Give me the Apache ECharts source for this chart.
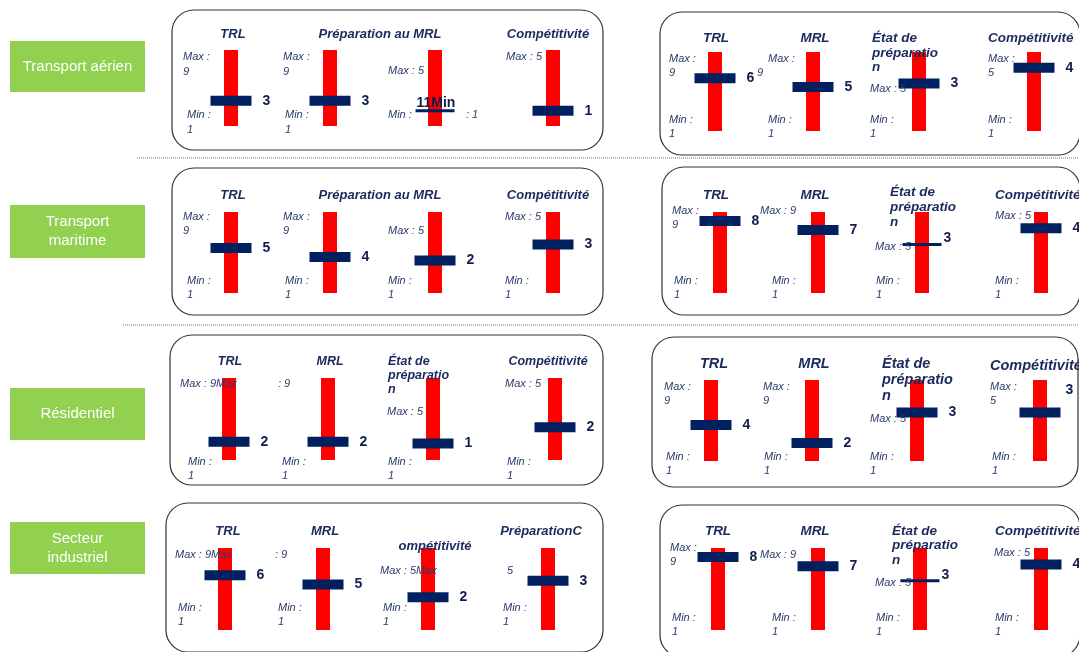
<!DOCTYPE html>
<html><head><meta charset="utf-8">
<script src="https://cdn.jsdelivr.net/npm/echarts@6/dist/echarts.min.js"></script>
<style>html,body{margin:0;padding:0;background:#fff}#c{width:1079px;height:652px}</style>
</head><body><div id="c"></div>
<script>
// ---------- DATA ----------
const sectors = ['Transport aérien', 'Transport\nmaritime', 'Résidentiel', 'Secteur\nindustriel'];
const criteria = ['TRL', 'MRL', 'État de préparation', 'Compétitivité'];
const maxVals = [9, 9, 5, 5];
const minVals = [1, 1, 1, 1];
const aerienLeft = [3, 3, 1, 1];
const aerienRight = [6, 5, 3, 4];
const maritimeLeft = [5, 4, 2, 3];
const maritimeRight = [8, 7, 3, 4];
const residentielLeft = [2, 2, 1, 2];
const residentielRight = [4, 2, 3, 3];
const industrielLeft = [6, 5, 2, 3];
const industrielRight = [8, 7, 3, 4];

// ---------- LAYOUT / STYLE ----------
const FONT = '"Liberation Sans", Arial, sans-serif';
const NAVY = '#002060';
const TXT = '#1B2A5E';
const LAB = '#2B3B6B';
const T = 'title', L = 'lab';
const mx = i => 'Max : ' + maxVals[i];

const panels = [
  { vals: aerienLeft, box: [172, 10, 431, 140], top: 50, bottom: 126, cx: [231, 330, 435, 553], ts: 13,
    thin: { 2: { label: { position: [1, -13], formatter: p => minVals[2] + '' + p.value + 'Min' } } },
    texts: [['TRL',233,34,T,'center'],['Préparation au MRL',380,34,T,'center'],['Compétitivité',548,34,T,'center'],
      ['Max :',183,57,L],[String(maxVals[0]),183,72,L],['Max :',283,57,L],[String(maxVals[1]),283,72,L],[mx(2),388,71,L],[mx(3),506,57,L],
      ['Min :',187,115,L],[String(minVals[0]),187,130,L],['Min :',285,115,L],[String(minVals[1]),285,130,L],['Min :',388,115,L],[': ' + minVals[3],466,115,L]] },
  { vals: aerienRight, box: [660, 12, 420, 143], top: 52, bottom: 131, cx: [715, 813, 919, 1034], ts: 13.5, thin: {},
    texts: [['TRL',716,38,T,'center'],['MRL',815,38,T,'center'],['État de',872,38,T],['préparatio',872,53,T],['n',872,67,T],['Compétitivité',988,38,T],
      ['Max :',669,59,L],[String(maxVals[0]),669,73,L],['Max :',768,59,L],[String(maxVals[1]),757,73,L],[mx(2),870,89,L],['Max :',988,59,L],[String(maxVals[3]),988,73,L],
      ['Min :',669,120,L],[String(minVals[0]),669,134,L],['Min :',768,120,L],[String(minVals[1]),768,134,L],['Min :',870,120,L],[String(minVals[2]),870,134,L],['Min :',988,120,L],[String(minVals[3]),988,134,L]] },
  { vals: maritimeLeft, box: [172, 168, 431, 147], top: 212, bottom: 293, cx: [231, 330, 435, 553], ts: 13, thin: null,
    texts: [['TRL',233,195,T,'center'],['Préparation au MRL',380,195,T,'center'],['Compétitivité',548,195,T,'center'],
      ['Max :',183,217,L],[String(maxVals[0]),183,231,L],['Max :',283,217,L],[String(maxVals[1]),283,231,L],[mx(2),388,231,L],[mx(3),505,217,L],
      ['Min :',187,281,L],[String(minVals[0]),187,295,L],['Min :',285,281,L],[String(minVals[1]),285,295,L],['Min :',388,281,L],[String(minVals[2]),388,295,L],['Min :',505,281,L],[String(minVals[3]),505,295,L]] },
  { vals: maritimeRight, box: [662, 167, 418, 148], top: 212, bottom: 293, cx: [720, 818, 922, 1041], ts: 13.5,
    thin: { 2: { label: { position: 'right', distance: 2, offset: [0, -6] } } },
    texts: [['TRL',716,195,T,'center'],['MRL',815,195,T,'center'],['État de',890,192,T],['préparatio',890,207,T],['n',890,222,T],['Compétitivité',995,195,T],
      ['Max :',672,211,L],[String(maxVals[0]),672,225,L],[mx(1),760,211,L],[mx(2),875,247,L],[mx(3),995,216,L],
      ['Min :',674,281,L],[String(minVals[0]),674,295,L],['Min :',772,281,L],[String(minVals[1]),772,295,L],['Min :',876,281,L],[String(minVals[2]),876,295,L],['Min :',995,281,L],[String(minVals[3]),995,295,L]] },
  { vals: residentielLeft, box: [170, 335, 433, 150], top: 378, bottom: 460, cx: [229, 328, 433, 555], ts: 12.5, thin: null,
    texts: [['TRL',230,362,T,'center'],['MRL',330,362,T,'center'],['État de',388,362,T],['préparatio',388,376,T],['n',388,390,T],['Compétitivité',548,362,T,'center'],
      [mx(0) + 'Max',180,384,L],[': ' + maxVals[1],278,384,L],[mx(2),387,412,L],[mx(3),505,384,L],
      ['Min :',188,462,L],[String(minVals[0]),188,476,L],['Min :',282,462,L],[String(minVals[1]),282,476,L],['Min :',388,462,L],[String(minVals[2]),388,476,L],['Min :',507,462,L],[String(minVals[3]),507,476,L]] },
  { vals: residentielRight, box: [652, 337, 426, 150], top: 380, bottom: 461, cx: [711, 812, 917, 1040], ts: 14.5,
    thin: null, lab: { 3: { offset: [-6, -22] } },
    texts: [['TRL',714,364,T,'center'],['MRL',814,364,T,'center'],['État de',882,364,T],['préparatio',882,380,T],['n',882,396,T],['Compétitivité',990,366,T],
      ['Max :',664,387,L],[String(maxVals[0]),664,401,L],['Max :',763,387,L],[String(maxVals[1]),763,401,L],[mx(2),870,419,L],['Max :',990,387,L],[String(maxVals[3]),990,401,L],
      ['Min :',666,457,L],[String(minVals[0]),666,471,L],['Min :',764,457,L],[String(minVals[1]),764,471,L],['Min :',870,457,L],[String(minVals[2]),870,471,L],['Min :',992,457,L],[String(minVals[3]),992,471,L]] },
  { vals: industrielLeft, box: [166, 503, 437, 149], top: 548, bottom: 630, cx: [225, 323, 428, 548], ts: 13, thin: null,
    texts: [['TRL',228,531,T,'center'],['MRL',325,531,T,'center'],['ompétitivité',435,546,T,'center'],['PréparationC',541,531,T,'center'],
      [mx(0) + 'Max',175,555,L],[': ' + maxVals[1],275,555,L],[mx(2) + 'Max',380,571,L],[String(maxVals[3]),507,571,L],
      ['Min :',178,608,L],[String(minVals[0]),178,622,L],['Min :',278,608,L],[String(minVals[1]),278,622,L],['Min :',383,608,L],[String(minVals[2]),383,622,L],['Min :',503,608,L],[String(minVals[3]),503,622,L]] },
  { vals: industrielRight, box: [660, 505, 420, 152], top: 548, bottom: 630, cx: [718, 818, 920, 1041], ts: 13.5,
    thin: { 2: { label: { position: 'right', distance: 2, offset: [0, -6] } } },
    texts: [['TRL',718,531,T,'center'],['MRL',815,531,T,'center'],['État de',892,531,T],['préparatio',892,545,T],['n',892,560,T],['Compétitivité',995,531,T],
      ['Max :',670,548,L],[String(maxVals[0]),670,562,L],[mx(1),760,555,L],[mx(2),875,583,L],[mx(3),994,553,L],
      ['Min :',672,618,L],[String(minVals[0]),672,632,L],['Min :',772,618,L],[String(minVals[1]),772,632,L],['Min :',876,618,L],[String(minVals[2]),876,632,L],['Min :',995,618,L],[String(minVals[3]),995,632,L]] }
];

const greenBoxes = [[10, 41, 135, 51], [10, 205, 135, 53], [10, 388, 135, 52], [10, 522, 135, 52]];
const separators = [[137, 158, 1079, 158], [123, 325, 1079, 325]];

// ---------- BUILD ----------
const grid = [], xAxis = [], yAxis = [], series = [], graphic = [];

panels.forEach(p => {
  graphic.push({ type: 'rect', z: 1, shape: { x: p.box[0], y: p.box[1], width: p.box[2], height: p.box[3], r: 22 },
    style: { fill: 'none', stroke: '#333', lineWidth: 1.2 } });
  p.cx.forEach((cx, gi) => {
    const idx = grid.length;
    grid.push({ left: cx - 21, top: p.top, width: 42, height: p.bottom - p.top, containLabel: false });
    xAxis.push({ type: 'category', gridIndex: idx, data: [criteria[gi]], show: false });
    yAxis.push({ type: 'value', gridIndex: idx, min: 0, max: maxVals[gi], show: false });
    series.push({ type: 'bar', xAxisIndex: idx, yAxisIndex: idx, data: [maxVals[gi]], barWidth: 14,
      itemStyle: { color: '#FF0000' }, silent: true, animation: false, z: 2 });
    const thinCfg = p.thin && p.thin[gi];
    const label = { show: true, position: 'right', distance: 11, formatter: '{c}', fontSize: 14, fontWeight: 'bold',
      color: '#0F1E4E', fontFamily: FONT };
    if (thinCfg) Object.assign(label, thinCfg.label);
    if (p.lab && p.lab[gi]) Object.assign(label, p.lab[gi]);
    series.push({ type: 'scatter', xAxisIndex: idx, yAxisIndex: idx, data: [p.vals[gi]], symbol: 'rect',
      symbolSize: thinCfg ? [39, 3] : [41, 10], itemStyle: { color: NAVY, opacity: 1 }, label, silent: true, animation: false, z: 3 });
  });
  p.texts.forEach(([text, x, y, kind, align]) => {
    const isT = kind === T;
    graphic.push({ type: 'text', z: 100, x, y, silent: true,
      style: { text, fill: isT ? TXT : LAB,
        font: (isT ? 'italic bold ' + p.ts + 'px ' : 'italic 11px ') + FONT,
        textAlign: align || 'left', align: align || 'left', textVerticalAlign: 'middle', verticalAlign: 'middle' } });
  });
});

greenBoxes.forEach((b, i) => {
  graphic.push({ type: 'rect', z: 1, shape: { x: b[0], y: b[1], width: b[2], height: b[3] }, style: { fill: '#92D050' } });
  graphic.push({ type: 'text', z: 101, x: b[0] + b[2] / 2, y: b[1] + b[3] / 2,
    style: { text: sectors[i], fill: '#fff', font: '15px ' + FONT, lineHeight: 19,
      textAlign: 'center', align: 'center', textVerticalAlign: 'middle', verticalAlign: 'middle' } });
});

separators.forEach(s => {
  graphic.push({ type: 'line', z: 1, shape: { x1: s[0], y1: s[1], x2: s[2], y2: s[3] },
    style: { stroke: '#777', lineWidth: 1, lineDash: [1, 1] } });
});

const chart = echarts.init(document.getElementById('c'), null, { renderer: 'canvas' });
chart.setOption({ animation: false, grid, xAxis, yAxis, series, graphic });
</script></body></html>
